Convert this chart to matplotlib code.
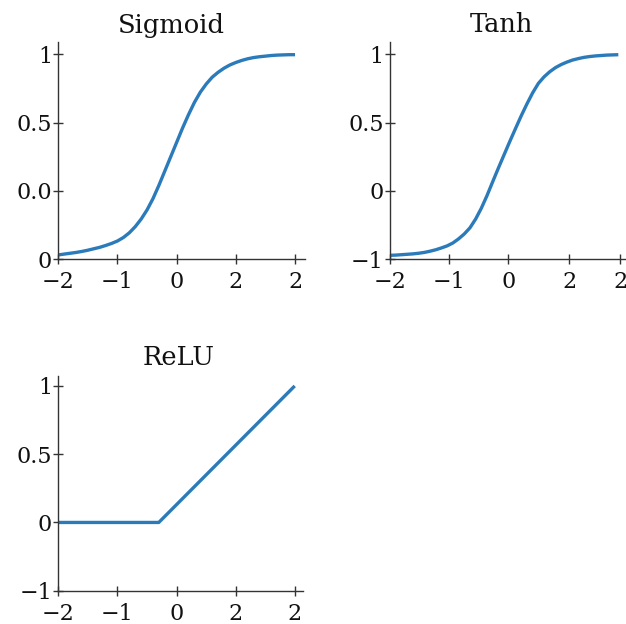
import matplotlib
matplotlib.use("Agg")
import matplotlib.pyplot as plt

# ---------------------------------------------------------------------------
# data (y given as fraction of the tick span)
# ---------------------------------------------------------------------------
x_grid = [-2.0, -1.9, -1.8, -1.7, -1.6, -1.5, -1.4, -1.3, -1.2, -1.1, -1.0,
          -0.9, -0.8, -0.7, -0.6, -0.5, -0.4, -0.3, -0.2, -0.1, 0.0,
          0.1, 0.2, 0.3, 0.4, 0.5, 0.6, 0.7, 0.8, 0.9, 1.0,
          1.1, 1.2, 1.3, 1.4, 1.5, 1.6, 1.7, 1.8, 1.9, 2.0]
sigmoid_y = [0.020, 0.024, 0.028, 0.032, 0.037, 0.043, 0.050, 0.057, 0.066,
             0.076, 0.088, 0.105, 0.128, 0.158, 0.195, 0.240, 0.295, 0.360,
             0.430, 0.500, 0.570, 0.640, 0.705, 0.765, 0.815, 0.855, 0.888,
             0.912, 0.932, 0.948, 0.960, 0.970, 0.978, 0.984, 0.988, 0.991,
             0.994, 0.996, 0.997, 0.998, 0.998]
tanh_y = [0.018, 0.019, 0.021, 0.023, 0.025, 0.028, 0.032, 0.038, 0.045,
          0.054, 0.064, 0.078, 0.098, 0.122, 0.152, 0.195, 0.248, 0.310,
          0.378, 0.445, 0.510, 0.575, 0.638, 0.700, 0.758, 0.812, 0.858,
          0.890, 0.915, 0.935, 0.950, 0.962, 0.972, 0.979, 0.985, 0.989,
          0.992, 0.994, 0.996, 0.997, 0.998]
relu_x = [-2.0, -0.3, 2.0]
relu_y = [1 / 3, 1 / 3, 1.0]

x_ticklabels = ["\u22122", "\u22121", "0", "2", "2"]
sigmoid_yticklabels = ["0", "0.0", "0.5", "1"]
tanh_yticklabels = ["\u22121", "0", "0.5", "1"]
relu_yticklabels = ["\u22121", "0", "0.5", "1"]

BLUE = "#2b7bba"
INK = "#333333"
W, H = 626, 624

plt.rcParams["font.family"] = ["DejaVu Serif"]


def _axes(fig, left, bottom, width, height):
    return fig.add_axes([left / W, bottom / H, width / W, height / H])


def _style(ax, xticks, yticklabels, xlim, ylim):
    for s in ("top", "right"):
        ax.spines[s].set_visible(False)
    for s in ("left", "bottom"):
        ax.spines[s].set_color(INK)
        ax.spines[s].set_linewidth(1.0)
    ax.set_xlim(*xlim)
    ax.set_ylim(*ylim)
    ax.set_xticks(xticks)
    ax.set_xticklabels(x_ticklabels)
    ax.set_yticks([0, 1 / 3, 2 / 3, 1])
    ax.set_yticklabels(yticklabels)
    ax.tick_params(direction="inout", length=7, width=1.0, color=INK,
                   labelsize=16, labelcolor="#111111")
    ax.tick_params(axis="y", pad=1)
    ax.tick_params(axis="x", pad=5)
    ax.patch.set_alpha(0)


def _curve(ax, xs, ys):
    ax.plot(xs, ys, color=BLUE, linewidth=2.4, solid_capstyle="butt",
            solid_joinstyle="round", clip_on=False)


fig = plt.figure(figsize=(W / 100, H / 100), dpi=100)

# Sigmoid
ax = _axes(fig, 58.3, H - 259, 246.8, 217)
_curve(ax, x_grid, sigmoid_y)
_style(ax, [-2, -1, 0, 1, 2], sigmoid_yticklabels, (-2, 2.17), (0, 1.06))
ax.text(0.46, 1.0 + 17 / 217, "Sigmoid", transform=ax.transAxes,
        ha="center", va="center", fontsize=18.5, color="#111111")

# Tanh
ax = _axes(fig, 390, H - 259, 236.3, 217)
_curve(ax, x_grid, tanh_y)
_style(ax, [-2, -0.96, 0.07, 1.14, 2.03], tanh_yticklabels, (-2, 2.14),
       (0, 1.06))
ax.text(0.47, 1.0 + 17 / 217, "Tanh", transform=ax.transAxes,
        ha="center", va="center", fontsize=18.5, color="#111111")

# ReLU
ax = _axes(fig, 58.3, H - 590.7, 244.7, 215)
_curve(ax, relu_x, relu_y)
_style(ax, [-2, -1, 0, 1, 2], relu_yticklabels, (-2, 2.14), (0, 1.05))
ax.text(0.49, 1.0 + 18.5 / 215, "ReLU", transform=ax.transAxes,
        ha="center", va="center", fontsize=18.5, color="#111111")

fig.savefig("out.png", dpi=100, facecolor="white")
plt.close(fig)
